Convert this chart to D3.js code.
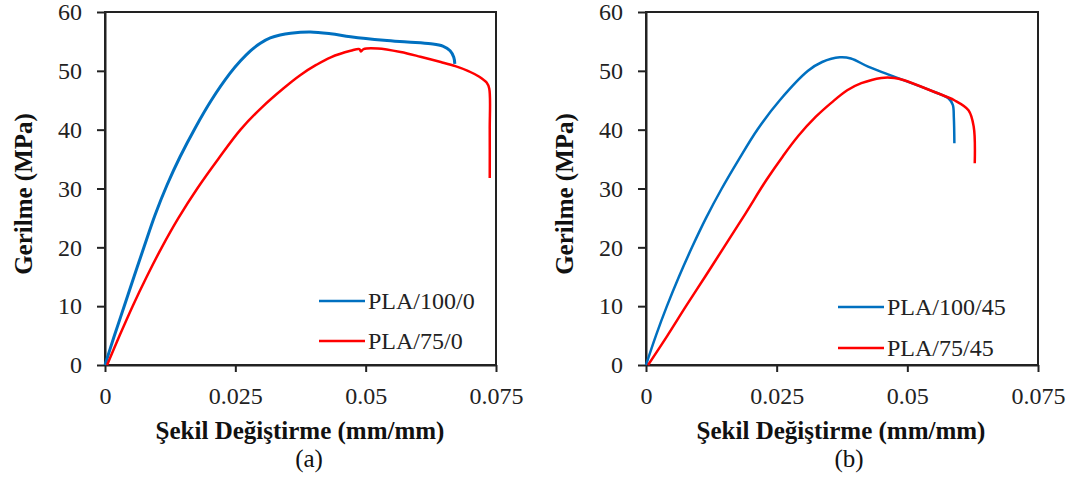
<!DOCTYPE html>
<meta charset="utf-8">
<head>
    <style>
        body {margin: 0; background: #fff;}
        svg {display: block;}
        .tick text {font-family: "Liberation Serif", "Times New Roman", serif; font-size: 24px; fill: #222;}
        .tick line, .domain {stroke: #222; stroke-width: 2px;}
        .frame {fill: none; stroke: #222; stroke-width: 2px;}
        .title {font-family: "Liberation Serif", "Times New Roman", serif; font-size: 25px; font-weight: bold; fill: #111;}
        .caption {font-family: "Liberation Serif", "Times New Roman", serif; font-size: 25px; fill: #111;}
        .legend text {font-family: "Liberation Serif", "Times New Roman", serif; font-size: 24px; fill: #222;}
    </style>
    <script src="https://d3js.org/d3.v7.min.js"></script>
</head>
<body>
<script>
    // tick values
    var xTicks = [0, 0.025, 0.05, 0.075],
        xTickLabels = ["0", "0.025", "0.05", "0.075"],
        yTicks = [0, 10, 20, 30, 40, 50, 60];

    // (a) PLA/100/0
    var strainA1 = [0, 0.00173, 0.00365, 0.00556, 0.0075, 0.0096, 0.0119, 0.0144, 0.0173, 0.0204, 0.024, 0.026, 0.0279, 0.0298, 0.0317, 0.0336, 0.0356, 0.0394, 0.0433, 0.0471, 0.0535, 0.058, 0.0625, 0.0648, 0.0662, 0.0669, 0.0671],
        stressA1 = [0, 4.8, 9.9, 15, 20.1, 25.5, 30.6, 35.4, 40.3, 45.0, 49.6, 51.7, 53.4, 54.7, 55.6, 56.1, 56.4, 56.6, 56.3, 55.8, 55.2, 54.9, 54.6, 54.2, 53.4, 52.3, 51.2];
    // (a) PLA/75/0
    var strainA2 = [0.0004, 0.0028, 0.0053, 0.008, 0.0109, 0.0141, 0.0177, 0.0218, 0.026, 0.0301, 0.0342, 0.0375, 0.0405, 0.0433, 0.0471, 0.0488, 0.0491, 0.0496, 0.0523, 0.0567, 0.0605, 0.0644, 0.0672, 0.0696, 0.0718, 0.0732, 0.0737, 0.0738, 0.0738],
        stressA2 = [0, 5, 10, 15, 20, 25, 30, 35.1, 40, 43.8, 47, 49.3, 51, 52.3, 53.4, 53.7, 53.3, 53.7, 53.8, 53.2, 52.4, 51.5, 50.8, 50.0, 49.0, 48.0, 47.0, 40, 31.8];

    // (b) PLA/100/45
    var strainB1 = [0, 0.0019, 0.004, 0.0063, 0.0088, 0.0115, 0.0145, 0.0178, 0.0213, 0.0256, 0.031, 0.0337, 0.0371, 0.0392, 0.0425, 0.0463, 0.0508, 0.0552, 0.0579, 0.0587, 0.0589, 0.059],
        stressB1 = [0, 5, 10, 15, 20, 25, 30, 35, 40, 45, 50, 51.5, 52.3, 52.1, 50.7, 49.4, 47.9, 46.4, 45.3, 44.2, 42, 37.7];
    // (b) PLA/75/45
    var strainB2 = [0.0004, 0.0041, 0.00765, 0.0113, 0.0149, 0.019, 0.023, 0.0262, 0.0292, 0.0325, 0.0355, 0.0385, 0.0412, 0.045, 0.0475, 0.0494, 0.0552, 0.059, 0.0617, 0.0627, 0.0629],
        stressB2 = [0, 5, 10, 15, 20, 25.7, 31.4, 35.5, 39, 42.2, 44.6, 46.7, 47.9, 48.8, 48.8, 48.4, 46.4, 45, 43.3, 40.5, 34.3];

    var blue = "#0070C0", red = "#FF0000";

    var svg = d3.select("body").append("svg")
        .attr("width", 1069)
        .attr("height", 486);

    function zip(xs, ys) {
        return xs.map(function(d, i) {return [d, ys[i]]});
    }

    function drawPanel(p) {
        var x = d3.scaleLinear().domain([0, 0.075]).range([p.left, p.right]),
            y = d3.scaleLinear().domain([0, 60]).range([365, 12]);

        var g = svg.append("g");

        g.append("rect").attr("class", "frame")
            .attr("x", x(0)).attr("y", y(60))
            .attr("width", x(0.075) - x(0)).attr("height", y(0) - y(60));

        g.append("g")
            .attr("transform", "translate(0," + y(0) + ")")
            .call(d3.axisBottom(x).tickValues(xTicks).tickSize(7).tickSizeOuter(0).tickPadding(15)
                .tickFormat(function(d, i) {return xTickLabels[i]}));

        g.append("g")
            .attr("transform", "translate(" + x(0) + ",0)")
            .call(d3.axisLeft(y).tickValues(yTicks).tickSize(8).tickSizeOuter(0).tickPadding(15));

        var line = d3.line()
            .x(function(d) {return x(d[0])})
            .y(function(d) {return y(d[1])})
            .curve(d3.curveCatmullRom.alpha(0.5));

        p.series.forEach(function(s) {
            g.append("path")
                .datum(zip(s.xs, s.ys))
                .attr("fill", "none")
                .attr("stroke", s.color)
                .attr("stroke-width", s.width)
                .attr("stroke-linejoin", "round")
                .attr("d", line);
        });

        var lg = g.append("g").attr("class", "legend");
        p.series.forEach(function(s, i) {
            var ly = p.legendY[i];
            lg.append("line")
                .attr("x1", p.legendX).attr("x2", p.legendX + 46)
                .attr("y1", ly).attr("y2", ly)
                .attr("stroke", s.color).attr("stroke-width", 2.5);
            lg.append("text")
                .attr("x", p.legendX + 49).attr("y", ly + 8)
                .text(s.name);
        });

        g.append("text").attr("class", "title")
            .attr("transform", "translate(" + p.yTitleX + ",194) rotate(-90)")
            .attr("text-anchor", "middle")
            .text("Gerilme (MPa)");

        g.append("text").attr("class", "title")
            .attr("x", p.xTitleX).attr("y", 439)
            .attr("text-anchor", "middle")
            .text("Şekil Değiştirme (mm/mm)");

        g.append("text").attr("class", "caption")
            .attr("x", p.captionX).attr("y", 467)
            .attr("text-anchor", "middle")
            .text(p.caption);
    }

    drawPanel({
        left: 105, right: 496,
        legendX: 319, legendY: [301, 341],
        yTitleX: 32, xTitleX: 300, captionX: 309, caption: "(a)",
        series: [
            {name: "PLA/100/0", xs: strainA1, ys: stressA1, color: blue, width: 3},
            {name: "PLA/75/0", xs: strainA2, ys: stressA2, color: red, width: 2.5}
        ]
    });

    drawPanel({
        left: 646, right: 1038,
        legendX: 838, legendY: [307, 348],
        yTitleX: 573, xTitleX: 841, captionX: 849, caption: "(b)",
        series: [
            {name: "PLA/100/45", xs: strainB1, ys: stressB1, color: blue, width: 2.5},
            {name: "PLA/75/45", xs: strainB2, ys: stressB2, color: red, width: 2.5}
        ]
    });
</script>
</body>
